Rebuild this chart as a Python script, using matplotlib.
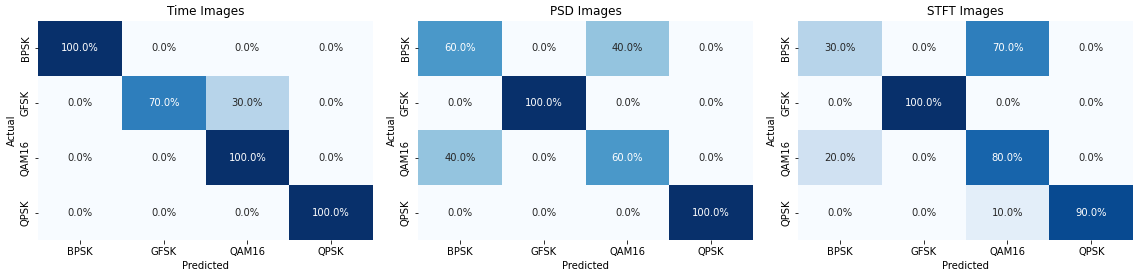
import matplotlib
matplotlib.use('Agg')
import matplotlib.pyplot as plt
import seaborn as sns
import numpy as np

classes = ['BPSK', 'GFSK', 'QAM16', 'QPSK']
titles = ['Time Images', 'PSD Images', 'STFT Images']

cm_time = [[1.0, 0.0, 0.0, 0.0],
           [0.0, 0.7, 0.3, 0.0],
           [0.0, 0.0, 1.0, 0.0],
           [0.0, 0.0, 0.0, 1.0]]
cm_psd = [[0.6, 0.0, 0.4, 0.0],
          [0.0, 1.0, 0.0, 0.0],
          [0.4, 0.0, 0.6, 0.0],
          [0.0, 0.0, 0.0, 1.0]]
cm_stft = [[0.3, 0.0, 0.7, 0.0],
           [0.0, 1.0, 0.0, 0.0],
           [0.2, 0.0, 0.8, 0.0],
           [0.0, 0.0, 0.1, 0.9]]

fig, axes = plt.subplots(1, 3, figsize=(1140 / 72, 278 / 72), dpi=72)
fig.subplots_adjust(left=0.0333, right=0.994, top=0.9245, bottom=0.1367, wspace=0.134)

for ax, cm, title in zip(axes, [cm_time, cm_psd, cm_stft], titles):
    sns.heatmap(np.array(cm), annot=True, fmt='.1%', cmap='Blues', cbar=False,
                vmin=0, vmax=1, xticklabels=classes, yticklabels=classes, ax=ax)
    ax.set_title(title)
    ax.set_xlabel('Predicted')
    ax.set_ylabel('Actual')

fig.savefig('out.png', dpi=72)
